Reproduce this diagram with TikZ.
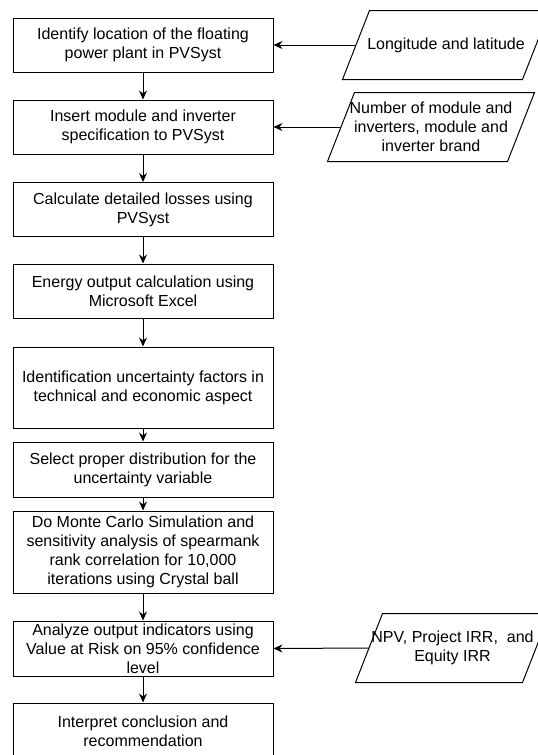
\documentclass[tikz,border=0pt]{standalone}
\usepackage{fontspec}
\setmainfont{Liberation Sans}
\usetikzlibrary{arrows.meta}

\begin{document}
\begin{tikzpicture}[x=1pt,y=-1pt,line width=1pt]

  \tikzstyle{process}=[draw, minimum width=260pt, minimum height=54pt, align=center, inner sep=0, font=\fontsize{16}{19.2}\selectfont]
  \tikzstyle{tallprocess}=[process, minimum height=82pt]
  \tikzstyle{data}=[minimum width=179pt, minimum height=68pt, align=center, inner sep=0, font=\fontsize{16}{19.2}\selectfont]
  \tikzstyle{flow}=[-{Stealth[length=9pt,width=8pt,inset=3pt]}]

  \useasboundingbox (0,0) rectangle (538,755);

  \path
  (143,45) node[process](identify){Identify location of the floating\\power plant in PVSyst}
  (143,127) node[process](insert){Insert module and inverter\\specification to PVSyst}
  (143,209.5) node[process](losses){Calculate detailed losses using\\PVSyst}
  (143,291) node[process](energy){Energy output calculation using\\Microsoft Excel}
  (143,387.5) node[tallprocess, minimum height=81pt](uncert){Identification uncertainty factors in\\technical and economic aspect}
  (143,469.5) node[process, minimum height=55pt](distrib){Select proper distribution for the\\uncertainty variable}
  (143,552) node[tallprocess](monte){Do Monte Carlo Simulation and\\sensitivity analysis of spearmank\\rank correlation for 10,000\\iterations using Crystal ball}
  (143,648.5) node[process, minimum height=55pt](analyze){Analyze output indicators using\\Value at Risk on 95\% confidence\\level}
  (143,731) node[process, minimum height=56pt](interpret){Interpret conclusion and\\recommendation};

  \path
  (446,45) node[data](lonlat){Longitude and latitude}
  (431,127) node[data](modnum){Number of module and\\inverters, module and\\inverter brand}
  (452.5,648) node[data, minimum width=166pt](npv){NPV, Project IRR,~~and\\Equity IRR};

  \foreach \n in {lonlat,modnum,npv}
    \draw ([xshift=-13.5pt]\n.south west) -- ([xshift=13.5pt]\n.north west)
      -- ([xshift=13.5pt]\n.north east) -- ([xshift=-13.5pt]\n.south east) -- cycle;

  \draw[flow] (identify)--(insert);
  \draw[flow] (insert)--(losses);
  \draw[flow] (losses)--(energy);
  \draw[flow] (energy)--(uncert);
  \draw[flow] (uncert)--(distrib);
  \draw[flow] (distrib)--(monte);
  \draw[flow] (monte)--(analyze);
  \draw[flow] (analyze)--(interpret);

  \draw[flow] (lonlat.west)--(identify.east);
  \draw[flow] (modnum.west)--(insert.east);
  \draw[flow] (npv.west)--(analyze.east);
\end{tikzpicture}
\end{document}
